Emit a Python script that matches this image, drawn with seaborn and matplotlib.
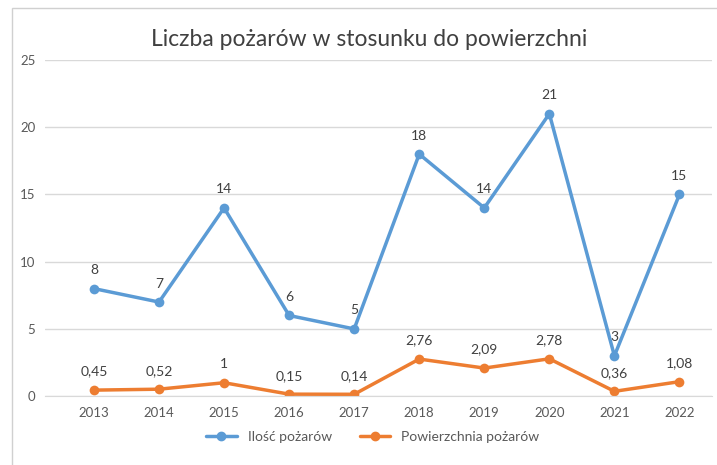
import matplotlib
matplotlib.use("Agg")
import matplotlib.pyplot as plt
import seaborn as sns
import pandas as pd
from matplotlib.patches import Rectangle
from matplotlib.lines import Line2D

years = ["2013", "2014", "2015", "2016", "2017", "2018", "2019", "2020", "2021", "2022"]
ilosc = [8, 7, 14, 6, 5, 18, 14, 21, 3, 15]
powierzchnia = [0.45, 0.52, 1, 0.15, 0.14, 2.76, 2.09, 2.78, 0.36, 1.08]
series_names = ["Ilość pożarów", "Powierzchnia pożarów"]
colors = ["#5B9BD5", "#ED7D31"]

df = pd.DataFrame({
    "rok": years * 2,
    "wartosc": ilosc + powierzchnia,
    "seria": [series_names[0]] * len(years) + [series_names[1]] * len(years),
})

sns.set_style("white")
plt.rcParams["font.family"] = ["Lato", "DejaVu Sans"]
txt = "#595959"

fig = plt.figure(figsize=(7.17, 4.65), dpi=100)
ax = fig.add_axes([0.063, 0.148, 0.93, 0.723])

sns.lineplot(data=df, x="rok", y="wartosc", hue="seria", palette=colors,
             marker="o", markersize=7, markeredgewidth=0, linewidth=2.5,
             sort=False, ax=ax, legend=False)

def fmt(v):
    return f"{v:g}".replace(".", ",")

for vals in [ilosc, powierzchnia]:
    for i, v in enumerate(vals):
        ax.annotate(fmt(v), (i, v), xytext=(0, 9), textcoords="offset points",
                    ha="center", va="bottom", fontsize=10, color="#404040")

ax.set_ylim(0, 25)
ax.set_xlim(-0.75, 9.5)
ax.set_yticks([0, 5, 10, 15, 20, 25])
ax.yaxis.grid(True, color="#D9D9D9", linewidth=1)
ax.xaxis.grid(False)
for s in ["top", "right", "left"]:
    ax.spines[s].set_visible(False)
ax.spines["bottom"].set_color("#D9D9D9")
ax.tick_params(axis="both", length=0, labelsize=9.5, colors=txt)
ax.tick_params(axis="y", pad=7)
ax.tick_params(axis="x", pad=8)
ax.set_xlabel("")
ax.set_ylabel("")

fig.text(0.515, 0.915, "Liczba pożarów w stosunku do powierzchni",
         ha="center", va="center", fontsize=16.5, color="#404040")

# legend
handles = [Line2D([0], [0], color=c, lw=2.5, marker="o", markersize=6) for c in colors]
fig.legend(handles, series_names, loc="center", bbox_to_anchor=(0.52, 0.06),
           ncol=2, frameon=False, fontsize=10, labelcolor=txt,
           handlelength=2.2, columnspacing=2.0)

# chart border
fig.patches.append(Rectangle((0.017, -0.01), 1.0, 0.993, transform=fig.transFigure,
                             fill=False, edgecolor="#D0D0D0", linewidth=1))

fig.savefig("out.png", dpi=100)
